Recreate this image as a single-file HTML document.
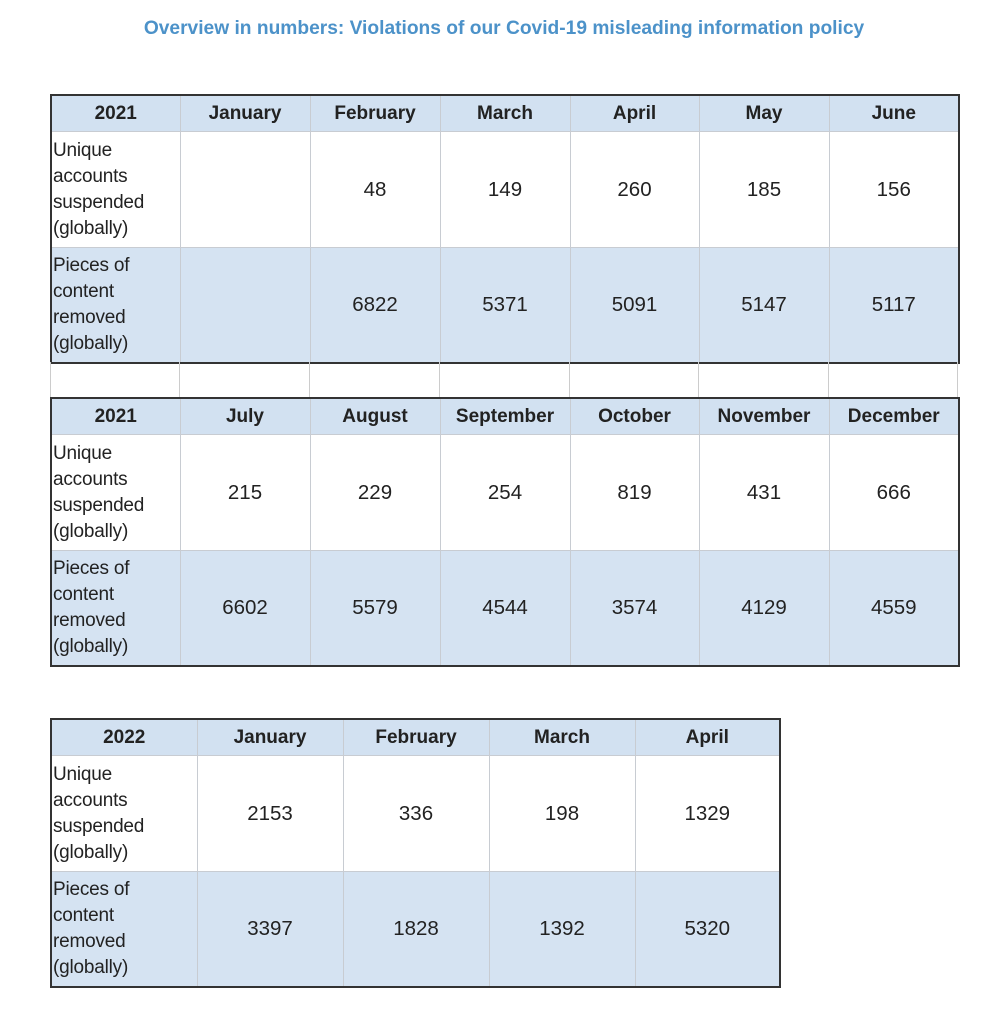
<!DOCTYPE html>
<html><head><meta charset="utf-8"><style>
body{margin:0;width:1000px;height:1024px;background:#fff;position:relative;font-family:"Liberation Sans",Arial,sans-serif;color:#222;}
.title{position:absolute;top:18px;left:0;width:1008px;text-align:center;font-weight:bold;font-size:19.2px;color:#4c92c9;}
table{position:absolute;border-collapse:collapse;table-layout:fixed;}
td{border:1px solid #c8ccd2;text-align:center;font-size:20.5px;padding:0;}
tr.h td{background:#d2e1f1;font-weight:bold;height:35px;font-size:19px;}
tr.a td{background:#fff;height:115px;}
tr.b td{background:#d5e3f2;height:114px;}
td.l{text-align:left;font-size:19px;line-height:26px;padding-left:1px;letter-spacing:-0.2px;}
table.t{border:2px solid #333;}
.sp{position:absolute;left:50px;top:362px;height:35px;width:908px;}
.sp div{position:absolute;top:0;height:35px;border-left:1px solid #ccc;}
</style></head><body>
<div class="title">Overview in numbers: Violations of our Covid-19 misleading information policy</div>

<table class="t" style="left:50px;top:94px;width:908px">
<colgroup><col style="width:129px"><col style="width:130px"><col style="width:130px"><col style="width:130px"><col style="width:129px"><col style="width:130px"><col style="width:130px"></colgroup>
<tr class="h"><td>2021</td><td>January</td><td>February</td><td>March</td><td>April</td><td>May</td><td>June</td></tr>
<tr class="a"><td class="l">Unique<br>accounts<br>suspended<br>(globally)</td><td></td><td>48</td><td>149</td><td>260</td><td>185</td><td>156</td></tr>
<tr class="b"><td class="l">Pieces of<br>content<br>removed<br>(globally)</td><td></td><td>6822</td><td>5371</td><td>5091</td><td>5147</td><td>5117</td></tr>
</table>

<div class="sp"><div style="left:0"></div><div style="left:129px"></div><div style="left:259px"></div><div style="left:389px"></div><div style="left:519px"></div><div style="left:648px"></div><div style="left:778px"></div><div style="left:907px"></div></div>

<table class="t" style="left:50px;top:397px;width:908px">
<colgroup><col style="width:129px"><col style="width:130px"><col style="width:130px"><col style="width:130px"><col style="width:129px"><col style="width:130px"><col style="width:130px"></colgroup>
<tr class="h"><td>2021</td><td>July</td><td>August</td><td>September</td><td>October</td><td>November</td><td>December</td></tr>
<tr class="a"><td class="l">Unique<br>accounts<br>suspended<br>(globally)</td><td>215</td><td>229</td><td>254</td><td>819</td><td>431</td><td>666</td></tr>
<tr class="b"><td class="l">Pieces of<br>content<br>removed<br>(globally)</td><td>6602</td><td>5579</td><td>4544</td><td>3574</td><td>4129</td><td>4559</td></tr>
</table>

<table class="t" style="left:50px;top:718px;width:729px">
<colgroup><col style="width:146px"><col style="width:146px"><col style="width:146px"><col style="width:146px"><col style="width:145px"></colgroup>
<tr class="h"><td>2022</td><td>January</td><td>February</td><td>March</td><td>April</td></tr>
<tr class="a"><td class="l">Unique<br>accounts<br>suspended<br>(globally)</td><td>2153</td><td>336</td><td>198</td><td>1329</td></tr>
<tr class="b"><td class="l">Pieces of<br>content<br>removed<br>(globally)</td><td>3397</td><td>1828</td><td>1392</td><td>5320</td></tr>
</table>
</body></html>
